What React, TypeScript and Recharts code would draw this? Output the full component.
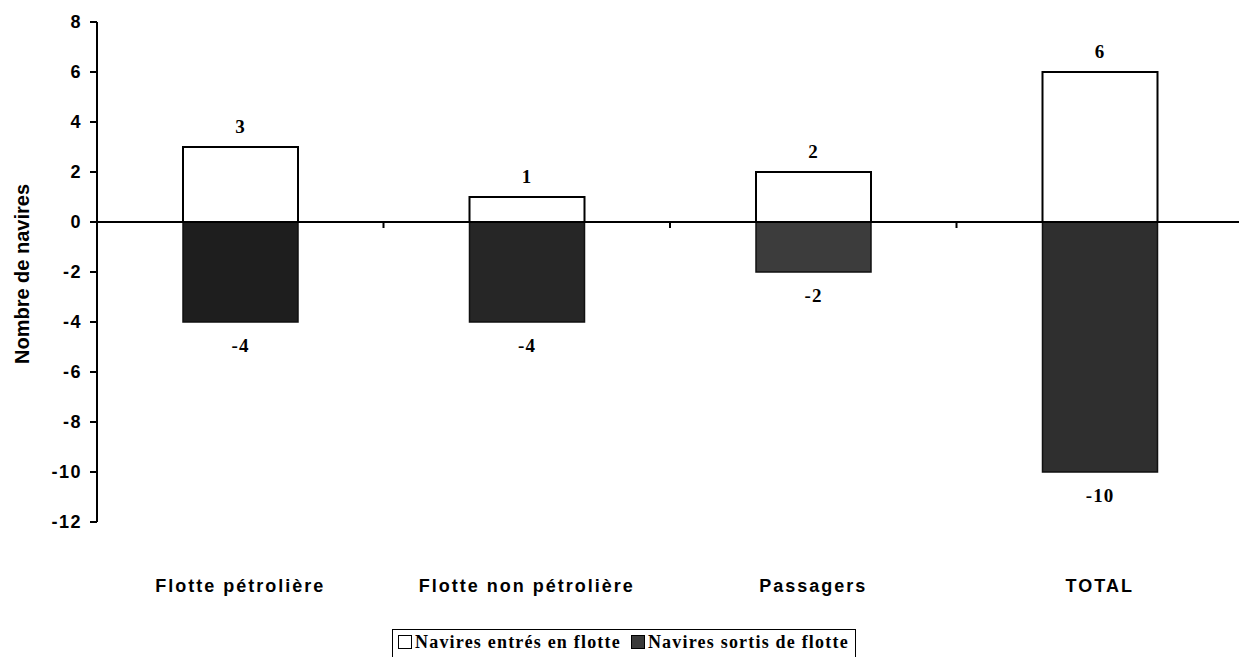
import { BarChart, Bar, XAxis, YAxis, ReferenceLine, LabelList, Legend, Cell } from 'recharts'

const categories = ['Flotte pétrolière', 'Flotte non pétrolière', 'Passagers', 'TOTAL']
const entres = [3, 1, 2, 6]
const sortis = [-4, -4, -2, -10]
const yTicks = [-12, -10, -8, -6, -4, -2, 0, 2, 4, 6, 8]

const SERIES_ENTRES = 'Navires entrés en flotte'
const SERIES_SORTIS = 'Navires sortis de flotte'
const SORTIS_SHADES = ['#1e1e1e', '#262626', '#3c3c3c', '#2f2f2f']

const data = categories.map((name, i) => ({ name, entres: entres[i], sortis: sortis[i] }))

const SANS = '"Liberation Sans", Arial, sans-serif'
const SERIF = '"Liberation Serif", "Times New Roman", serif'

function ValueLabel(props: any) {
  const { x, y, width, height, value } = props
  const top = Math.min(y, y + height)
  const bottom = Math.max(y, y + height)
  const ty = value >= 0 ? top - 21 : bottom + 23
  return (
    <text x={x + width / 2} y={ty} textAnchor="middle" dominantBaseline="central"
      fontFamily={SERIF} fontWeight="bold" fontSize={19} letterSpacing={1} fill="#000">
      {value}
    </text>
  )
}

function ZeroTicks(props: any) {
  const { viewBox } = props
  if (!viewBox) return null
  const n = categories.length
  const marks = []
  for (let i = 1; i < n; i++) {
    const px = viewBox.x + (viewBox.width * i) / n
    marks.push(<line key={i} x1={px} x2={px} y1={viewBox.y} y2={viewBox.y + 6} stroke="#000" strokeWidth={2} />)
  }
  return <g>{marks}</g>
}

function YLabel(props: any) {
  const { viewBox } = props
  const cy = viewBox.y + viewBox.height / 2 + 2
  return (
    <text x={22} y={cy} transform={`rotate(-90, 22, ${cy})`} textAnchor="middle" dominantBaseline="central"
      fontFamily={SANS} fontWeight="bold" fontSize={20} fill="#000">
      Nombre de navires
    </text>
  )
}

function LegendBox() {
  const sq = { display: 'inline-block', width: 12, height: 12, border: '1.5px solid #000', marginRight: 3, verticalAlign: '-1px' }
  return (
    <div style={{
      border: '1.5px solid #000', borderBottom: 'none', padding: '2px 6px 6px 5px', whiteSpace: 'nowrap',
      fontFamily: SERIF, fontWeight: 'bold', fontSize: 18, letterSpacing: 1.2, color: '#000', background: '#fff',
    }}>
      <span style={{ ...sq, background: '#fff' }} />{SERIES_ENTRES}
      <span style={{ ...sq, background: '#3a3a3a', marginLeft: 10 }} />{SERIES_SORTIS}
    </div>
  )
}

export default function App() {
  return (
    <div style={{ position: 'absolute', left: 0, top: 0, background: '#fff', fontFamily: SANS, overflow: 'hidden', width: 1239, height: 657 }}>
      <BarChart width={1239} height={657} data={data} stackOffset="sign"
        margin={{ top: 22, right: -4, left: 0, bottom: 65 }}>
        <XAxis dataKey="name" axisLine={false} tickLine={false} height={70} tickMargin={51} interval={0}
          tick={{ fontSize: 18, fontWeight: 'bold', fill: '#000', fontFamily: SANS, letterSpacing: 2 }} />
        <YAxis domain={[-12, 8]} ticks={yTicks} interval={0} width={97} tickSize={7} tickMargin={8}
          axisLine={{ stroke: '#000', strokeWidth: 2 }} tickLine={{ stroke: '#000', strokeWidth: 2 }}
          tick={{ fontSize: 18, fontWeight: 'bold', fill: '#000', fontFamily: SANS, letterSpacing: 1.5 }}
          label={<YLabel />} />
        <Bar dataKey="entres" name={SERIES_ENTRES} stackId="a" barSize={115} fill="#fff" stroke="#000" strokeWidth={2}
          isAnimationActive={false}>
          <LabelList dataKey="entres" content={<ValueLabel />} />
        </Bar>
        <Bar dataKey="sortis" name={SERIES_SORTIS} stackId="a" barSize={115} fill="#2a2a2a" stroke="#111" strokeWidth={1.5}
          isAnimationActive={false}>
          {data.map((d, i) => <Cell key={d.name} fill={SORTIS_SHADES[i]} />)}
          <LabelList dataKey="sortis" content={<ValueLabel />} />
        </Bar>
        <ReferenceLine y={0} stroke="#000" strokeWidth={2} label={<ZeroTicks />} />
        <Legend layout="horizontal" verticalAlign="middle" align="center" content={<LegendBox />}
          wrapperStyle={{ position: 'absolute', left: 392, top: 629, width: 'auto', height: 'auto' }} />
      </BarChart>
    </div>
  )
}
